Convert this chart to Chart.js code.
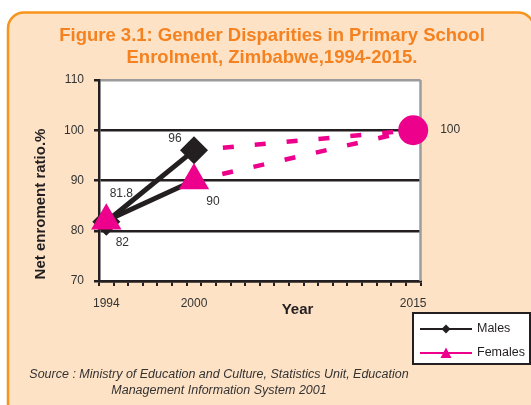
<!DOCTYPE html>
<html>
<head>
<meta charset="utf-8">
<script src="https://cdn.jsdelivr.net/npm/chart.js@4"></script>
<style>
  html, body { margin: 0; padding: 0; background: #fff; }
  canvas { display: block; }
</style>
</head>
<body>
<canvas id="chart" width="531" height="405"></canvas>
<script>
// data
const years = ['1994', '1995', '1996', '1997', '1998', '1999', '2000', '2001', '2002', '2003', '2004',
               '2005', '2006', '2007', '2008', '2009', '2010', '2011', '2012', '2013', '2014', '2015'];
const shownYears = ['1994', '2000', '2015'];
const yTicks = [70, 80, 90, 100, 110];

const maleYears = ['1994', '2000'];
const maleValues = [81.8, 96];
const femaleYears = ['1994', '2000'];
const femaleValues = [82, 90];
const targetYears = ['2000', '2015'];
const maleTarget = [96, 100];
const femaleTarget = [90, 100];

const BLACK = '#231f20';
const MAGENTA = '#ec008c';
const TEXT = '#333333';
const FONT = "'Liberation Sans', Arial, sans-serif";

Chart.defaults.font.family = FONT;

function pts(xs, ys) {
    return xs.map((x, i) => ({ x: x, y: ys[i] }));
}

// where the value labels sit relative to their point
const valueLabels = [
    { ds: 0, i: 0, dx: 15, dy: -28 },
    { ds: 0, i: 1, dx: -19, dy: -12 },
    { ds: 1, i: 0, dx: 16, dy: 22 },
    { ds: 1, i: 1, dx: 19, dy: 21 },
    { ds: 2, i: 1, dx: 37, dy: -1 }
];

const decor = {
    id: 'decor',
    beforeDraw(chart) {
        const ctx = chart.ctx, a = chart.chartArea;
        ctx.save();
        ctx.fillStyle = '#fff';
        ctx.fillRect(0, 0, chart.width, chart.height);
        ctx.beginPath();
        ctx.roundRect(8, 12.5, 526, 410, 16);
        ctx.fillStyle = '#fde2c6';
        ctx.fill();
        ctx.lineWidth = 2.5;
        ctx.strokeStyle = '#f7941d';
        ctx.stroke();
        ctx.fillStyle = '#fff';
        ctx.fillRect(a.left, a.top, a.right - a.left, a.bottom - a.top);
        ctx.restore();
    },
    beforeDatasetsDraw(chart) {
        const ctx = chart.ctx, a = chart.chartArea;
        ctx.save();
        ctx.strokeStyle = '#9c9c9c';
        ctx.lineWidth = 2.5;
        ctx.beginPath();
        ctx.moveTo(a.right, a.top);
        ctx.lineTo(a.right, a.bottom);
        ctx.stroke();
        ctx.restore();
    },
    afterDraw(chart) {
        const ctx = chart.ctx;
        ctx.save();

        // title
        ctx.fillStyle = '#f58220';
        ctx.font = 'bold 18.5px ' + FONT;
        ctx.textAlign = 'center';
        ctx.textBaseline = 'middle';
        ctx.fillText('Figure 3.1: Gender Disparities in Primary School', 272, 36);
        ctx.fillText('Enrolment, Zimbabwe,1994-2015.', 272, 58);

        // axis titles
        ctx.fillStyle = BLACK;
        ctx.font = 'bold 15px ' + FONT;
        ctx.fillText('Year', 297.5, 310);
        ctx.save();
        ctx.translate(41, 204);
        ctx.rotate(-Math.PI / 2);
        ctx.fillText('Net enroment ratio.%', 0, 0);
        ctx.restore();

        // value labels
        ctx.fillStyle = TEXT;
        ctx.font = '12px ' + FONT;
        valueLabels.forEach(l => {
            const p = chart.getDatasetMeta(l.ds).data[l.i];
            const v = chart.data.datasets[l.ds].data[l.i].y;
            ctx.fillText(String(v), p.x + l.dx, p.y + l.dy);
        });

        // legend
        ctx.fillStyle = '#fff';
        ctx.fillRect(413, 313, 117, 51);
        ctx.strokeStyle = BLACK;
        ctx.lineWidth = 2;
        ctx.strokeRect(413, 313, 117, 51);

        ctx.lineWidth = 2;
        ctx.strokeStyle = BLACK;
        ctx.beginPath(); ctx.moveTo(420, 329); ctx.lineTo(472, 329); ctx.stroke();
        ctx.fillStyle = BLACK;
        ctx.beginPath();
        ctx.moveTo(446, 324.5); ctx.lineTo(450.5, 329); ctx.lineTo(446, 333.5); ctx.lineTo(441.5, 329);
        ctx.closePath(); ctx.fill();

        ctx.strokeStyle = MAGENTA;
        ctx.beginPath(); ctx.moveTo(420, 353); ctx.lineTo(472, 353); ctx.stroke();
        ctx.fillStyle = MAGENTA;
        ctx.beginPath();
        ctx.moveTo(446, 347.5); ctx.lineTo(451.5, 358); ctx.lineTo(440.5, 358);
        ctx.closePath(); ctx.fill();

        ctx.fillStyle = BLACK;
        ctx.font = '12.5px ' + FONT;
        ctx.textAlign = 'left';
        ctx.fillText('Males', 477, 329);
        ctx.fillText('Females', 477, 353);

        // source
        ctx.fillStyle = TEXT;
        ctx.font = 'italic 12.5px ' + FONT;
        ctx.textAlign = 'center';
        ctx.fillText('Source : Ministry of Education and Culture, Statistics Unit, Education', 219, 375);
        ctx.fillText('Management Information System 2001', 219, 391);

        ctx.restore();
    }
};

new Chart(document.getElementById('chart').getContext('2d'), {
    type: 'line',
    data: {
        labels: years,
        datasets: [{
            label: 'Males',
            data: pts(maleYears, maleValues),
            borderColor: BLACK,
            borderWidth: 5,
            pointStyle: 'rectRot',
            pointRadius: 14,
            pointBackgroundColor: BLACK,
            pointBorderWidth: 0,
            clip: false,
            order: 1
        }, {
            label: 'Females',
            data: pts(femaleYears, femaleValues),
            borderColor: BLACK,
            borderWidth: 5,
            pointStyle: 'triangle',
            pointRadius: 17.5,
            pointBackgroundColor: MAGENTA,
            pointBorderWidth: 0,
            clip: false,
            order: 0
        }, {
            label: 'Males target',
            data: pts(targetYears, maleTarget),
            borderColor: MAGENTA,
            borderWidth: 4.5,
            borderDash: [11, 21],
            borderDashOffset: 3,
            pointStyle: 'circle',
            pointRadius: [0, 15],
            pointBackgroundColor: MAGENTA,
            pointBorderWidth: 0,
            clip: false,
            order: 2
        }, {
            label: 'Females target',
            data: pts(targetYears, femaleTarget),
            borderColor: MAGENTA,
            borderWidth: 4.5,
            borderDash: [11, 21],
            borderDashOffset: 3,
            pointRadius: 0,
            clip: false,
            order: 3
        }]
    },
    options: {
        responsive: false,
        animation: false,
        events: [],
        layout: { padding: { top: 80, right: 110.5, left: 0, bottom: 0 } },
        plugins: {
            legend: { display: false },
            title: { display: false },
            tooltip: { enabled: false }
        },
        scales: {
            x: {
                type: 'category',
                offset: true,
                grid: { offset: true, drawOnChartArea: false, tickLength: 5, tickColor: BLACK, lineWidth: 2 },
                border: { color: BLACK, width: 2.5 },
                ticks: {
                    autoSkip: false,
                    maxRotation: 0,
                    padding: 10,
                    color: TEXT,
                    font: { size: 12 },
                    callback: function (v) {
                        const l = this.getLabelForValue(v);
                        return shownYears.includes(l) ? l : '';
                    }
                },
                afterFit(s) { s.height = 124; }
            },
            y: {
                min: 70,
                max: 110,
                afterBuildTicks(s) { s.ticks = yTicks.map(v => ({ value: v })); },
                grid: {
                    color: c => (c.tick && c.tick.value === 110) ? '#9c9c9c' : BLACK,
                    lineWidth: 2.5,
                    tickLength: 5,
                    tickColor: BLACK
                },
                border: { color: BLACK, width: 2.5 },
                ticks: { padding: 10, color: TEXT, font: { size: 12 } },
                afterFit(s) { s.width = 99; }
            }
        }
    },
    plugins: [decor]
});
</script>
</body>
</html>
